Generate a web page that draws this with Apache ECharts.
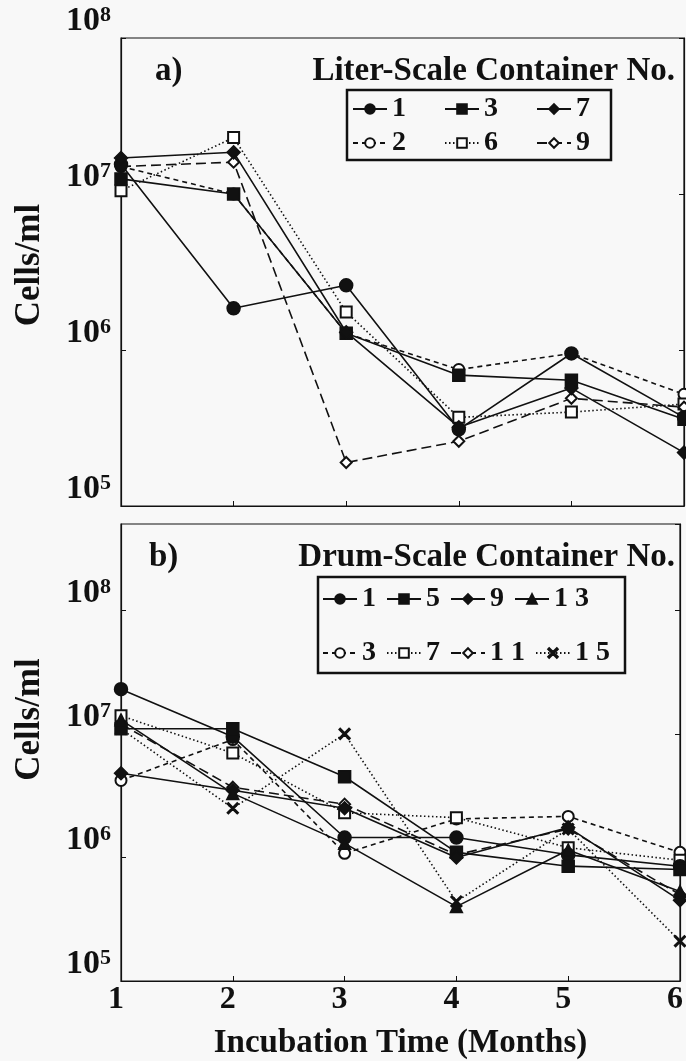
<!DOCTYPE html>
<html><head><meta charset="utf-8">
<script src="https://cdn.jsdelivr.net/npm/echarts@6/dist/echarts.min.js"></script>
<style>html,body{margin:0;padding:0;background:#f8f8f8}#c{width:686px;height:1061px}</style>
</head><body><div id="c"></div>
<script>
// ---- data ----
const months = [1, 2, 3, 4, 5, 6];
const xTickLabels = ['1', '2', '3', '4', '5', '6'];
// panel a: Liter-scale containers
const a1 = [1.55e7, 1.85e6, 2.6e6, 3.1e5, 9.5e5, 3.7e5];
const a3 = [1.25e7, 1.0e7, 1.28e6, 6.9e5, 6.4e5, 3.6e5];
const a7 = [1.7e7, 1.85e7, 1.3e6, 3.2e5, 5.7e5, 2.2e5];
const a2 = [1.5e7, 1.0e7, 1.28e6, 7.5e5, 9.5e5, 5.2e5];
const a6 = [1.05e7, 2.3e7, 1.75e6, 3.7e5, 4.0e5, 4.5e5];
const a9 = [1.5e7, 1.6e7, 1.9e5, 2.6e5, 4.9e5, 4.3e5];
// panel b: Drum-scale containers
const b1 = [2.3e7, 9.5e6, 1.45e6, 1.45e6, 1.05e6, 8.5e5];
const b5 = [1.1e7, 1.1e7, 4.5e6, 1.1e6, 8.5e5, 8.0e5];
const b9 = [4.8e6, 3.5e6, 2.5e6, 1.0e6, 1.75e6, 4.5e5];
const b13 = [1.3e7, 3.3e6, 1.3e6, 4.0e5, 1.15e6, 5.3e5];
const b3 = [4.2e6, 9.0e6, 1.08e6, 2.05e6, 2.15e6, 1.1e6];
const b7 = [1.4e7, 7.0e6, 2.3e6, 2.1e6, 1.2e6, 9.5e5];
const b11 = [1.2e7, 3.7e6, 2.7e6, 1.05e6, 1.7e6, 5.0e5];
const b15 = [1.1e7, 2.5e6, 1.0e7, 4.4e5, 1.7e6, 2.1e5];
const legendA1 = ['1', '3', '7'];
const legendA2 = ['2', '6', '9'];
const legendB1 = ['1', '5', '9', '1 3'];
const legendB2 = ['3', '7', '1 1', '1 5'];

// ---- styles ----
const FONT = 'Liberation Serif';
const K = '#111';
const SOLID = 'solid', SHORT = [5, 4], DOT = [1.5, 2.5], LONG = [10, 5];
const XSYM = 'path://M0,1L1,0L5,4L9,0L10,1L6,5L10,9L9,10L5,6L1,10L0,9L4,5Z';

function mk(id, name, data, symbol, dash, size) {
  return {
    type: 'line', name: id + ':' + name,
    xAxisIndex: id === 'a' ? 0 : 1, yAxisIndex: id === 'a' ? 0 : 2,
    data: months.map((m, i) => [m, data[i]]),
    symbol: symbol, symbolSize: size || 12,
    lineStyle: { color: K, width: 1.6, type: dash },
    itemStyle: { color: K, borderColor: K, borderWidth: 1.5 },
    emphasis: { disabled: true }, animation: false
  };
}

function yLabel(v) {
  const e = Math.round(Math.log10(v));
  if (Math.abs(Math.log10(v) - e) > 1e-6) return '';
  return '{b|10}{s|' + e + '}';
}
const yRich = {
  b: { fontFamily: FONT, fontWeight: 'bold', fontSize: 34, color: K, lineHeight: 34, verticalAlign: 'bottom' },
  s: { fontFamily: FONT, fontWeight: 'bold', fontSize: 22, color: K, lineHeight: 22, verticalAlign: 'top' }
};

function yAx(grid, max, left, namePad) {
  return {
    type: 'log', logBase: 10, gridIndex: grid, min: 1e5, max: max,
    position: left ? 'left' : 'right',
    axisLine: { show: true, lineStyle: { color: K, width: 1.2 } },
    axisTick: { show: true, inside: true, length: 5, lineStyle: { color: K } },
    splitLine: { show: false }, minorTick: { show: false },
    axisLabel: left ? { show: true, formatter: yLabel, rich: yRich, margin: 10, verticalAlign: 'bottom', showMaxLabel: max === 1e8 } : { show: false },
    name: left ? 'Cells/ml' : '', nameLocation: 'middle', nameRotate: 90, nameGap: 74,
    nameTextStyle: { fontFamily: FONT, fontWeight: 'bold', fontSize: 35, color: K, padding: [0, 0, 0, namePad || 0] }
  };
}
function xAx(grid, labels) {
  return {
    type: 'value', gridIndex: grid, min: 1, max: 6, interval: 1,
    axisLine: { show: true, lineStyle: { color: K, width: 1.2 } },
    axisTick: { show: true, inside: true, length: 5, lineStyle: { color: K } },
    splitLine: { show: false },
    axisLabel: labels ? { show: true, fontFamily: FONT, fontWeight: 'bold', fontSize: 32, color: K, margin: 3,
      padding: [0, 10, 0, 0], formatter: v => xTickLabels[months.indexOf(v)] } : { show: false },
    name: labels ? 'Incubation Time (Months)' : '', nameLocation: 'middle', nameGap: 46,
    nameTextStyle: { fontFamily: FONT, fontWeight: 'bold', fontSize: 33, color: K, padding: [0, 0, 0, 0] }
  };
}

const legTxt = { fontFamily: FONT, fontWeight: 'bold', fontSize: 28, color: K };
function leg(names, id, left, top, gap) {
  return {
    data: names.map(n => id + ':' + n), left: left, top: top, orient: 'horizontal',
    itemGap: gap, itemWidth: 34, itemHeight: 12, selectedMode: false,
    formatter: n => n.slice(2), textStyle: legTxt, padding: 0
  };
}

const TT = { fontFamily: FONT, fontWeight: 'bold', fontSize: 33, color: K };
const chart = echarts.init(document.getElementById('c'), null, { renderer: 'canvas' });
chart.setOption({
  backgroundColor: '#f8f8f8',
  animation: false,
  textStyle: { fontFamily: FONT },
  grid: [
    { left: 121, top: 38, width: 563, height: 468, show: true, borderColor: K, borderWidth: 1.2 },
    { left: 121, top: 524, width: 563, height: 466, show: true, borderColor: K, borderWidth: 1.2 }
  ],
  xAxis: [xAx(0, false), xAx(1, true)],
  yAxis: [yAx(0, 1e8, true, 14), yAx(0, 1e8, false), yAx(1, 5e8, true, 66), yAx(1, 5e8, false)],
  title: [
    { text: 'a)', left: 150, top: 50, textStyle: TT },
    { text: 'Liter-Scale Container No.', right: 6, top: 50, textStyle: TT },
    { text: 'b)', left: 144, top: 536, textStyle: TT },
    { text: 'Drum-Scale Container No.', right: 6, top: 536, textStyle: TT }
  ],
  legend: [
    leg(legendA1, 'a', 352, 95, 38),
    leg(legendA2, 'a', 352, 129, 38),
    leg(legendB1, 'b', 322, 585, 10),
    leg(legendB2, 'b', 322, 639, 10)
  ],
  graphic: [
    { type: 'rect', shape: { x: 347, y: 90, width: 264, height: 70 }, style: { fill: 'none', stroke: K, lineWidth: 2.5 }, z: 100 },
    { type: 'rect', shape: { x: 318, y: 577, width: 307, height: 96 }, style: { fill: 'none', stroke: K, lineWidth: 2.5 }, z: 100 }
  ],
  series: [
    mk('a', '2', a2, 'emptyCircle', SHORT, 11),
    mk('a', '6', a6, 'emptyRect', DOT, 11),
    mk('a', '9', a9, 'emptyDiamond', LONG, 11),
    mk('a', '1', a1, 'circle', SOLID, 13),
    mk('a', '3', a3, 'rect', SOLID, 12),
    mk('a', '7', a7, 'diamond', SOLID, 13),
    mk('b', '3', b3, 'emptyCircle', SHORT, 11),
    mk('b', '7', b7, 'emptyRect', DOT, 11),
    mk('b', '1 1', b11, 'emptyDiamond', LONG, 11),
    mk('b', '1 5', b15, XSYM, DOT, 11),
    mk('b', '1', b1, 'circle', SOLID, 13),
    mk('b', '5', b5, 'rect', SOLID, 12),
    mk('b', '9', b9, 'diamond', SOLID, 13),
    mk('b', '1 3', b13, 'triangle', SOLID, 12)
  ]
});
</script></body></html>
